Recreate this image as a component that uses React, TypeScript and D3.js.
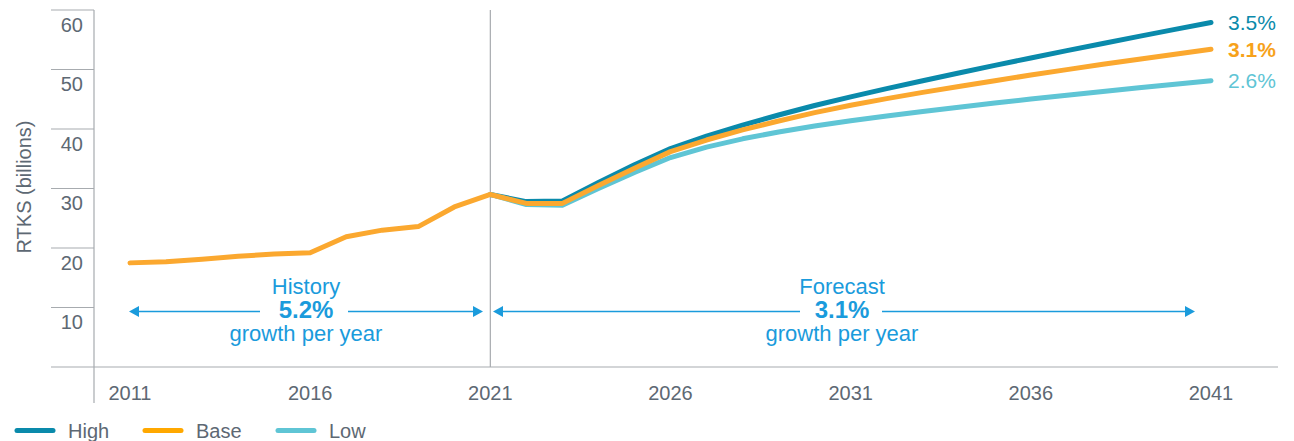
import React from "react";
import * as d3 from "d3";

const historyYears = [2011, 2012, 2013, 2014, 2015, 2016, 2017, 2018, 2019, 2020, 2021];
const historyValues = [17.5, 17.7, 18.1, 18.6, 19.0, 19.2, 21.9, 23.0, 23.6, 26.9, 29.0];

const forecastYears = [2021, 2022, 2023, 2024, 2025, 2026, 2027, 2028, 2029, 2030, 2031, 2032, 2033, 2034, 2035, 2036, 2037, 2038, 2039, 2040, 2041];
const highValues = [29.0, 27.8, 27.9, 31.0, 34.0, 36.7, 38.8, 40.65, 42.35, 43.95, 45.4, 46.78, 48.11, 49.41, 50.69, 51.94, 53.17, 54.37, 55.56, 56.74, 57.9];
const baseValues = [29.0, 27.5, 27.5, 30.5, 33.4, 36.2, 38.15, 39.85, 41.35, 42.75, 44.0, 45.1, 46.15, 47.15, 48.12, 49.06, 49.98, 50.87, 51.73, 52.57, 53.4];
const lowValues = [29.0, 27.3, 27.2, 30.0, 32.7, 35.2, 36.95, 38.35, 39.5, 40.5, 41.4, 42.2, 42.95, 43.67, 44.36, 45.03, 45.68, 46.31, 46.92, 47.52, 48.1];

const yTicks = [10, 20, 30, 40, 50, 60];
const xTicks = [2011, 2016, 2021, 2026, 2031, 2036, 2041];
const seriesNames = ["High", "Base", "Low"];
const endLabels = ["3.5%", "3.1%", "2.6%"];
const historyText = ["History", "5.2%", "growth per year"];
const forecastText = ["Forecast", "3.1%", "growth per year"];

const COLORS: Record<string, string> = { High: "#0a8aab", Base: "#fba82f", Low: "#5fc5d5" };
const LEGEND_COLORS: Record<string, string> = { High: "#0a8aab", Base: "#ffa800", Low: "#5fc5d5" };
const LABEL_COLORS: Record<string, string> = { High: "#0a8aab", Base: "#f7a21b", Low: "#5fc5d5" };
const ANNOT = "#1a9bdc";
const GREY = "#5d6873";
const AXIS = "#a7abaf";
const FONT = "'Liberation Sans', Arial, Helvetica, sans-serif";

export default function App() {
  const x = d3.scaleLinear().domain([2011, 2041]).range([130, 1211]);
  const y = d3.scaleLinear().domain([0, 60]).range([367, 10]);
  const line = d3
    .line<[number, number]>()
    .x((d) => x(d[0]))
    .y((d) => y(d[1]))
    .curve(d3.curveLinear);

  const zip = (ys: number[], vs: number[]) => ys.map((yr, i) => [yr, vs[i]] as [number, number]);
  const forecastSeries: Record<string, number[]> = { High: highValues, Base: baseValues, Low: lowValues };
  const baseFull = zip(historyYears, historyValues).concat(zip(forecastYears, baseValues).slice(1));

  const arrow = (x1: number, x2: number, yy: number, gap1: number, gap2: number) => {
    const ah = 10;
    const hw = 5.5;
    return (
      <g>
        <line x1={x1 + ah} x2={gap1} y1={yy} y2={yy} stroke={ANNOT} strokeWidth={1.5} />
        <line x1={gap2} x2={x2 - ah} y1={yy} y2={yy} stroke={ANNOT} strokeWidth={1.5} />
        <path d={`M${x1},${yy} L${x1 + ah},${yy - hw} L${x1 + ah},${yy + hw} Z`} fill={ANNOT} />
        <path d={`M${x2},${yy} L${x2 - ah},${yy - hw} L${x2 - ah},${yy + hw} Z`} fill={ANNOT} />
      </g>
    );
  };

  const annotText = (cx: number, lines: string[]) => (
    <g fill={ANNOT} textAnchor="middle" fontFamily={FONT}>
      <text x={cx} y={294} fontSize={22}>{lines[0]}</text>
      <text x={cx} y={318} fontSize={24} fontWeight="bold">{lines[1]}</text>
      <text x={cx} y={341} fontSize={22}>{lines[2]}</text>
    </g>
  );

  const arrowY = 311.5;

  return (
    <svg
      width={1294}
      height={441}
      style={{ position: "absolute", left: 0, top: 0, background: "#fff" }}
      fontFamily={FONT}
    >
      {yTicks.map((t) => (
        <g key={t}>
          <line x1={51} x2={94} y1={y(t)} y2={y(t)} stroke={AXIS} strokeWidth={1} />
          <text x={83} y={y(t) + 21.5} textAnchor="end" fontSize={20} fill={GREY}>
            {t}
          </text>
        </g>
      ))}
      <line x1={51} x2={1278} y1={y(0)} y2={y(0)} stroke={AXIS} strokeWidth={1.2} />
      <line x1={94} x2={94} y1={10} y2={403} stroke={AXIS} strokeWidth={1.2} />
      <line x1={x(2021)} x2={x(2021)} y1={10} y2={y(0)} stroke={AXIS} strokeWidth={1.2} />
      <text transform={`translate(31,187) rotate(-90)`} textAnchor="middle" fontSize={20} fill={GREY}>
        RTKS (billions)
      </text>
      {xTicks.map((t) => (
        <text key={t} x={x(t)} y={400} textAnchor="middle" fontSize={20} fill={GREY}>
          {t}
        </text>
      ))}
      {arrow(129, 483, arrowY, 260, 348)}
      {annotText(306, historyText)}
      {arrow(493, 1195, arrowY, 800, 882)}
      {annotText(842, forecastText)}
      <path d={line(zip(forecastYears, highValues)) || ""} fill="none" stroke={COLORS.High} strokeWidth={5} strokeLinejoin="round" strokeLinecap="round" />
      <path d={line(zip(forecastYears, lowValues)) || ""} fill="none" stroke={COLORS.Low} strokeWidth={5} strokeLinejoin="round" strokeLinecap="round" />
      <path d={line(baseFull) || ""} fill="none" stroke={COLORS.Base} strokeWidth={5} strokeLinejoin="round" strokeLinecap="round" />
      {seriesNames.map((s, i) => {
        const vals = forecastSeries[s];
        return (
          <text
            key={s}
            x={1228}
            y={y(vals[vals.length - 1]) + 7.5}
            fontSize={21}
            fontWeight={s === "Base" ? "bold" : "normal"}
            fill={LABEL_COLORS[s]}
          >
            {endLabels[i]}
          </text>
        );
      })}
      {seriesNames.map((s, i) => {
        const lx = [17, 145, 278][i];
        return (
          <g key={s}>
            <line x1={lx} x2={lx + 36} y1={430.5} y2={430.5} stroke={LEGEND_COLORS[s]} strokeWidth={5} strokeLinecap="round" />
            <text x={lx + 51} y={438} fontSize={20} fill={GREY}>
              {s}
            </text>
          </g>
        );
      })}
    </svg>
  );
}
